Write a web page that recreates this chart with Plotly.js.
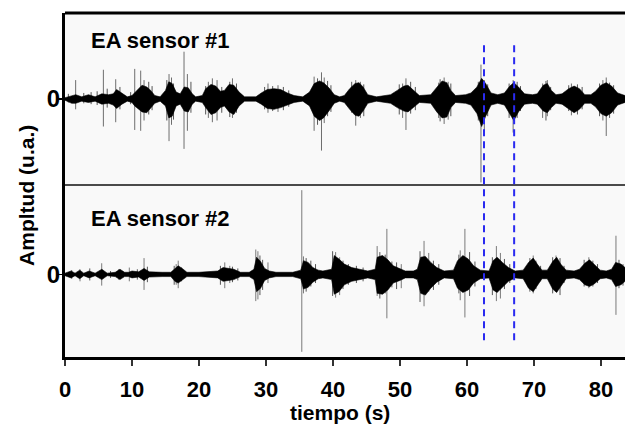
<!DOCTYPE html>
<html>
<head>
<meta charset="utf-8">
<script src="https://cdn.plot.ly/plotly-3.0.1.min.js"></script>
<style>html,body{margin:0;padding:0;background:#fff;}#chart{width:625px;height:429px;}</style>
</head>
<body>
<div id="chart"></div>
<script>
// ---------- Sensor #1 (top panel): envelope of the dense signal ----------
const s1EnvT  = [0.0,1.0,1.6,2.5,3.5,4.5,5.5,6.5,7.2,7.7,8.5,9.3,10.0,10.4,11.0,11.5,12.2,12.8,13.4,14.2,15.0,15.5,16.0,16.6,17.2,17.8,18.4,19.0,19.5,20.5,21.0,21.8,22.5,23.2,23.8,24.5,25.2,26.0,26.8,28.5,29.3,30.2,31.2,32.2,33.2,34.2,35.5,36.5,37.2,38.0,38.6,39.4,40.2,41.0,41.7,42.5,43.3,43.9,44.5,45.2,46.5,48.6,49.6,50.6,51.2,52.0,52.9,54.6,55.5,56.3,57.0,57.6,58.3,59.8,60.6,61.5,62.2,62.8,63.6,64.6,65.6,66.4,67.0,67.7,68.6,69.8,70.5,71.4,72.0,72.6,73.3,74.2,75.2,76.0,76.8,77.6,78.5,79.2,80.0,80.8,81.6,82.5,83.6];
const s1EnvUp = [0.015,0.04,0.05,0.025,0.05,0.025,0.06,0.05,0.06,0.11,0.07,0.025,0.04,0.07,0.12,0.16,0.14,0.10,0.04,0.025,0.10,0.20,0.18,0.08,0.06,0.14,0.13,0.06,0.025,0.04,0.12,0.17,0.15,0.09,0.10,0.17,0.16,0.08,0.025,0.025,0.07,0.11,0.12,0.11,0.07,0.04,0.025,0.08,0.18,0.21,0.19,0.13,0.05,0.025,0.04,0.12,0.18,0.19,0.14,0.05,0.025,0.05,0.10,0.15,0.16,0.10,0.04,0.05,0.14,0.21,0.19,0.10,0.04,0.05,0.07,0.14,0.24,0.18,0.07,0.05,0.07,0.15,0.19,0.14,0.06,0.05,0.06,0.16,0.18,0.10,0.05,0.06,0.12,0.15,0.12,0.05,0.05,0.09,0.16,0.19,0.15,0.07,0.04];
const s1EnvLo = [-0.015,-0.05,-0.05,-0.025,-0.04,-0.025,-0.06,-0.05,-0.07,-0.11,-0.06,-0.025,-0.04,-0.08,-0.12,-0.15,-0.16,-0.10,-0.05,-0.025,-0.08,-0.22,-0.20,-0.08,-0.06,-0.14,-0.15,-0.06,-0.025,-0.04,-0.10,-0.18,-0.16,-0.10,-0.08,-0.15,-0.18,-0.08,-0.025,-0.025,-0.06,-0.11,-0.12,-0.10,-0.07,-0.04,-0.025,-0.08,-0.20,-0.25,-0.22,-0.14,-0.05,-0.025,-0.04,-0.12,-0.19,-0.20,-0.14,-0.05,-0.025,-0.05,-0.10,-0.14,-0.15,-0.10,-0.04,-0.05,-0.15,-0.22,-0.21,-0.10,-0.04,-0.05,-0.07,-0.17,-0.32,-0.20,-0.07,-0.05,-0.07,-0.17,-0.25,-0.15,-0.06,-0.05,-0.06,-0.14,-0.16,-0.10,-0.05,-0.06,-0.12,-0.16,-0.12,-0.05,-0.05,-0.09,-0.17,-0.20,-0.16,-0.07,-0.04];
// isolated tall spikes of sensor #1
const s1SpikeT  = [1.59,5.73,7.57,10.41,11.30,11.8,15.53,15.9,17.77,18.27,21.4,22.0,22.7,25.0,30.3,31.8,37.19,38.29,38.7,43.4,44.1,50.4,50.9,56.6,57.2,62.1,62.6,66.9,71.3,72.0,75.6,80.3,80.8];
const s1SpikeUp = [0.22,0.34,0.23,0.35,0.33,0.22,0.29,0.25,0.55,0.29,0.20,0.24,0.22,0.24,0.18,0.16,0.26,0.31,0.25,0.22,0.20,0.18,0.24,0.25,0.20,0.40,0.22,0.22,0.18,0.22,0.18,0.22,0.25];
const s1SpikeLo = [-0.12,-0.32,-0.27,-0.36,-0.37,-0.25,-0.49,-0.30,-0.58,-0.37,-0.22,-0.27,-0.25,-0.22,-0.16,-0.15,-0.37,-0.60,-0.28,-0.31,-0.22,-0.22,-0.36,-0.29,-0.24,-0.97,-0.38,-0.39,-0.22,-0.20,-0.19,-0.25,-0.43];
// shorter hairs around the bursts of sensor #1
const s1HairT  = [0.5,2.8,3.9,4.8,6.3,8.2,9.8,12.5,13.0,15.2,16.2,18.8,21.0,23.4,24.6,25.6,29.8,31.0,32.6,33.4,37.7,39.2,39.7,42.8,44.6,49.9,51.6,52.3,55.8,56.0,57.6,61.7,63.1,66.3,67.5,68.0,71.8,72.5,75.2,76.5,77.2,79.8,81.3,81.9];
const s1HairUp = [0.06,0.07,0.08,0.09,0.12,0.14,0.08,0.20,0.15,0.22,0.18,0.20,0.15,0.14,0.20,0.18,0.14,0.15,0.14,0.10,0.24,0.21,0.16,0.20,0.17,0.17,0.20,0.14,0.19,0.23,0.18,0.20,0.17,0.18,0.20,0.15,0.21,0.14,0.16,0.17,0.14,0.18,0.19,0.16];
const s1HairLo = [-0.04,-0.05,-0.06,-0.07,-0.10,-0.12,-0.06,-0.18,-0.13,-0.25,-0.24,-0.16,-0.18,-0.16,-0.21,-0.16,-0.12,-0.14,-0.13,-0.09,-0.30,-0.20,-0.15,-0.16,-0.20,-0.18,-0.17,-0.13,-0.22,-0.26,-0.20,-0.25,-0.20,-0.22,-0.22,-0.14,-0.25,-0.13,-0.14,-0.18,-0.12,-0.20,-0.22,-0.17];

// ---------- Sensor #2 (bottom panel) ----------
const s2EnvT  = [0.0,0.9,1.5,2.2,2.8,3.6,4.5,5.5,6.3,7.5,8.2,8.9,9.5,10.0,11.0,11.8,12.6,13.5,14.5,15.8,16.4,16.9,17.5,18.2,20.0,22.8,23.6,24.4,25.2,26.2,27.5,28.2,28.6,29.2,29.8,30.5,31.5,34.0,35.2,35.6,36.3,37.0,37.8,38.5,39.8,40.2,40.9,41.7,42.8,44.0,45.2,46.3,46.6,47.4,48.2,49.0,50.0,50.8,52.0,52.6,53.1,53.8,54.6,55.5,56.6,58.0,58.6,59.4,60.2,61.0,62.0,63.3,63.9,64.5,65.3,66.2,67.2,68.4,69.2,69.9,70.5,71.2,72.0,72.8,73.4,74.0,74.8,76.0,76.8,77.6,78.3,79.0,79.9,80.8,81.6,82.2,83.0,83.6];
const s2EnvUp = [0.015,0.04,0.015,0.05,0.015,0.04,0.015,0.06,0.015,0.025,0.06,0.025,0.025,0.04,0.03,0.07,0.03,0.025,0.025,0.025,0.07,0.10,0.07,0.025,0.025,0.04,0.08,0.07,0.06,0.025,0.025,0.06,0.20,0.15,0.07,0.04,0.025,0.025,0.05,0.16,0.14,0.08,0.05,0.04,0.06,0.22,0.18,0.12,0.08,0.06,0.04,0.06,0.20,0.22,0.17,0.10,0.07,0.04,0.04,0.06,0.20,0.21,0.14,0.08,0.04,0.05,0.16,0.22,0.18,0.10,0.05,0.04,0.16,0.20,0.14,0.08,0.04,0.05,0.14,0.19,0.12,0.05,0.05,0.15,0.20,0.12,0.05,0.04,0.06,0.13,0.17,0.12,0.05,0.04,0.06,0.14,0.12,0.08];
const s2EnvLo = [-0.015,-0.04,-0.015,-0.05,-0.015,-0.04,-0.015,-0.06,-0.015,-0.025,-0.06,-0.025,-0.025,-0.04,-0.03,-0.07,-0.03,-0.025,-0.025,-0.025,-0.08,-0.10,-0.07,-0.025,-0.025,-0.04,-0.08,-0.07,-0.06,-0.025,-0.025,-0.06,-0.20,-0.16,-0.07,-0.04,-0.025,-0.025,-0.05,-0.17,-0.15,-0.09,-0.05,-0.04,-0.06,-0.23,-0.20,-0.12,-0.08,-0.06,-0.04,-0.06,-0.22,-0.23,-0.18,-0.10,-0.07,-0.04,-0.04,-0.06,-0.22,-0.24,-0.16,-0.09,-0.04,-0.05,-0.16,-0.21,-0.18,-0.10,-0.05,-0.04,-0.18,-0.21,-0.15,-0.08,-0.04,-0.05,-0.16,-0.20,-0.13,-0.05,-0.05,-0.17,-0.21,-0.14,-0.05,-0.04,-0.06,-0.12,-0.14,-0.11,-0.05,-0.04,-0.06,-0.14,-0.12,-0.08];
const s2SpikeT  = [2.24,5.48,8.0,9.6,11.8,16.6,16.9,23.85,24.6,28.48,28.8,30.3,35.35,35.6,40.4,41.0,46.6,48.05,50.2,53.6,54.3,59.0,59.7,64.4,65.0,69.9,73.3,78.2,82.25];
const s2SpikeUp = [0.06,0.13,0.06,0.08,0.19,0.12,0.16,0.14,0.10,0.29,0.27,0.14,0.98,0.21,0.26,0.20,0.33,0.53,0.12,0.39,0.25,0.28,0.53,0.33,0.25,0.22,0.22,0.20,0.45];
const s2SpikeLo = [-0.08,-0.13,-0.06,-0.08,-0.18,-0.12,-0.16,-0.16,-0.10,-0.31,-0.29,-0.10,-0.90,-0.22,-0.27,-0.24,-0.25,-0.51,-0.16,-0.37,-0.20,-0.30,-0.50,-0.31,-0.28,-0.22,-0.20,-0.16,-0.47];
const s2HairT  = [1.0,3.7,6.8,10.8,12.3,16.3,17.4,23.2,25.0,25.8,29.1,29.5,36.0,36.7,37.4,39.95,41.5,42.3,43.5,44.5,47.0,47.8,48.8,49.5,53.0,55.0,55.8,58.8,60.4,61.2,63.8,65.6,66.4,69.4,70.3,71.0,72.8,73.9,74.5,77.5,78.8,79.5,82.7,83.3];
const s2HairUp = [0.05,0.07,0.04,0.06,0.09,0.10,0.08,0.10,0.09,0.07,0.22,0.17,0.19,0.16,0.12,0.27,0.16,0.12,0.10,0.08,0.26,0.23,0.15,0.14,0.27,0.16,0.12,0.23,0.26,0.15,0.20,0.18,0.12,0.19,0.16,0.10,0.20,0.19,0.10,0.17,0.16,0.12,0.17,0.12];
const s2HairLo = [-0.05,-0.07,-0.04,-0.06,-0.09,-0.12,-0.08,-0.12,-0.09,-0.07,-0.24,-0.18,-0.20,-0.14,-0.10,-0.25,-0.17,-0.12,-0.10,-0.08,-0.28,-0.22,-0.15,-0.17,-0.32,-0.18,-0.12,-0.22,-0.25,-0.14,-0.24,-0.17,-0.10,-0.20,-0.17,-0.08,-0.22,-0.24,-0.10,-0.14,-0.14,-0.10,-0.16,-0.13];

// marked instants (dashed lines)
const markT = [62.55, 67.05];
const xTicks = [0,10,20,30,40,50,60,70,80];
const panelLabels = ["EA sensor #1", "EA sensor #2"];

function envTrace(t, up, lo, yax) {
  return {
    x: t.concat(t.slice().reverse()),
    y: up.concat(lo.slice().reverse()),
    type: 'scatter', mode: 'lines', fill: 'toself',
    fillcolor: '#000', line: {color: '#000', width: 0.6},
    xaxis: 'x', yaxis: yax, hoverinfo: 'skip', showlegend: false
  };
}
function spikeTrace(t, up, lo, yax, color, w) {
  const xs = [], ys = [];
  for (let i = 0; i < t.length; i++) { xs.push(t[i], t[i], null); ys.push(up[i], lo[i], null); }
  return {x: xs, y: ys, type: 'scatter', mode: 'lines', line: {color: color, width: w},
          xaxis: 'x', yaxis: yax, hoverinfo: 'skip', showlegend: false, connectgaps: false};
}

const data = [
  spikeTrace(s1HairT, s1HairUp, s1HairLo, 'y2', '#555', 1),
  spikeTrace(s1SpikeT, s1SpikeUp, s1SpikeLo, 'y2', '#6e6e6e', 1),
  envTrace(s1EnvT, s1EnvUp, s1EnvLo, 'y2'),
  spikeTrace(s2HairT, s2HairUp, s2HairLo, 'y', '#555', 1),
  spikeTrace(s2SpikeT, s2SpikeUp, s2SpikeLo, 'y', '#7a7a7a', 1),
  envTrace(s2EnvT, s2EnvUp, s2EnvLo, 'y')
];

const bold = 'Liberation Sans, Arial, sans-serif';
const shapes = [
  {type:'line', xref:'paper', yref:'paper', x0:0, x1:1, y0:1, y1:1, line:{color:'#000', width:3}},
  {type:'line', xref:'paper', yref:'paper', x0:0, x1:1, y0:0.5, y1:0.5, line:{color:'#111', width:1.5}}
];
markT.forEach(t => shapes.push({type:'line', xref:'x', yref:'paper', x0:t, x1:t, y0:0.049, y1:0.907,
  line:{color:'#2a2af0', width:2, dash:'7px,5px'}}));

const yTickFont = {family: bold, size: 24, color: '#000', weight: 'bold'};
const layout = {
  width: 625, height: 429,
  margin: {l: 65, r: 0, t: 13, b: 72, pad: 0},
  paper_bgcolor: '#ffffff', plot_bgcolor: '#f9f9f9',
  showlegend: false,
  xaxis: {range: [0, 83.6], anchor: 'y', tickvals: xTicks, ticktext: xTicks.map(String),
          ticks: 'outside', ticklen: 6, tickwidth: 1.5, tickcolor: '#333',
          showline: true, linecolor: '#000', linewidth: 2.5,
          showgrid: false, zeroline: false, ticklabelstandoff: 5,
          tickfont: {family: bold, size: 22, color: '#000', weight: 'bold'}},
  yaxis: {domain: [0, 0.5], range: [-0.96, 1.04], anchor: 'x', tickvals: [0], ticktext: ['0'],
          ticks: 'outside', ticklen: 5, tickwidth: 1.5, tickcolor: '#000',
          showline: true, linecolor: '#000', linewidth: 3, showgrid: false, zeroline: false,
          ticklabelstandoff: -8, tickfont: yTickFont},
  yaxis2: {domain: [0.5, 1], range: [-1, 1], anchor: 'x', tickvals: [0], ticktext: ['0'],
          ticks: 'outside', ticklen: 5, tickwidth: 1.5, tickcolor: '#000',
          showline: true, linecolor: '#000', linewidth: 3, showgrid: false, zeroline: false,
          ticklabelstandoff: -8, tickfont: yTickFont},
  shapes: shapes,
  annotations: [
    {text: panelLabels[0], xref: 'paper', yref: 'paper', x: 0.043, y: 0.921, xanchor: 'left', yanchor: 'middle',
     showarrow: false, font: {family: bold, size: 22, color: '#000', weight: 'bold'}},
    {text: panelLabels[1], xref: 'paper', yref: 'paper', x: 0.043, y: 0.404, xanchor: 'left', yanchor: 'middle',
     showarrow: false, font: {family: bold, size: 22, color: '#000', weight: 'bold'}},
    {text: 'tiempo (s)', xref: 'paper', yref: 'paper', x: 0.491, y: -0.16, xanchor: 'center', yanchor: 'middle',
     showarrow: false, font: {family: bold, size: 21, color: '#000', weight: 'bold'}},
    {text: 'Ampltud (u.a.)', xref: 'paper', yref: 'paper', x: -0.068, y: 0.471, xanchor: 'center', yanchor: 'middle',
     textangle: -90, showarrow: false, font: {family: bold, size: 21, color: '#000', weight: 'bold'}}
  ]
};

Plotly.newPlot('chart', data, layout, {staticPlot: true, displayModeBar: false});
</script>
</body>
</html>
